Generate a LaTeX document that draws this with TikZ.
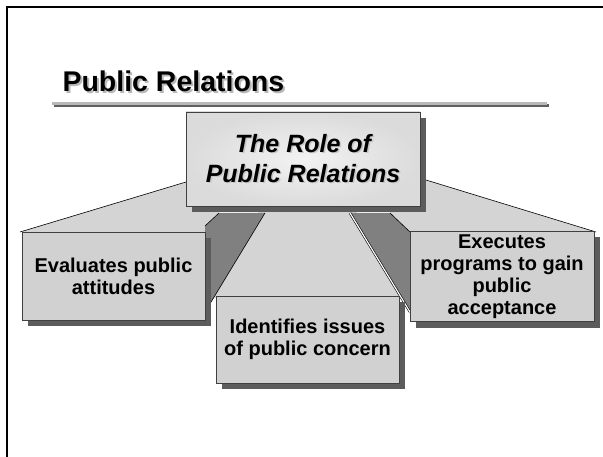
\documentclass[tikz,border=0pt]{standalone}
\usepackage{fontspec}
\setmainfont{Liberation Sans}
\usetikzlibrary{shadows,backgrounds}
\definecolor{facelight}{gray}{0.83}
\definecolor{facedark}{gray}{0.5}
\definecolor{boxfill}{gray}{0.82}
\definecolor{shadowgray}{gray}{0.36}
\newcommand\shadowtext[3]{\rlap{\kern#1\raisebox{-#1}{\textcolor{#2}{#3}}}#3}
\begin{document}
\begin{tikzpicture}[x=1pt,y=-1pt,
  box/.style={draw=black!75,line width=0.8pt,fill=boxfill,align=center,
    font=\fontsize{20}{22}\selectfont\bfseries,
    drop shadow={shadow xshift=6pt,shadow yshift=-6pt,fill=shadowgray,opacity=1}},
  face/.style={draw=black,line width=0.6pt,line join=round},
  titlefont/.style={font=\fontsize{28.5}{34}\selectfont\bfseries}]
\useasboundingbox (0,0) rectangle (603,457);
\draw[line width=2pt] (7,462) -- (7,7) -- (608,7);

\node (title) [titlefont,anchor=base west] at (59,92) {\shadowtext{2pt}{gray!55}{Public Relations}};
\draw[line width=3pt,gray!75!black] (54,106) -- (549,106);
\draw[line width=3pt,gray!55] (52,103.5) -- (547,103.5);

\node (cbox) [box,inner color=gray!10,outer color=gray!28,
  minimum width=234pt,minimum height=94pt,
  font=\fontsize{25}{30}\selectfont\bfseries\itshape] at (303,159)
  {\shadowtext{1.5pt}{gray!45}{The Role of}\\\shadowtext{1.5pt}{gray!45}{Public Relations}};
\node (lbox) [box,minimum width=183pt,minimum height=88pt] at (113.5,276)
  {Evaluates public\\attitudes};
\node (mbox) [box,minimum width=183pt,minimum height=87pt] at (307.5,339.5)
  {Identifies issues\\of public concern};
\node (rbox) [box,minimum width=184pt,minimum height=89pt] at (502,276.5)
  {Executes\\programs to gain\\public\\acceptance};

\begin{scope}[on background layer]
\fill[facelight] (186,182) -- (20,232) -- (205,232) -- (205,226) -- (219,213) -- (219,190) -- cycle;
\draw[face] (186,182) -- (20,232);
\fill[facelight] (265,200) -- (350,200) -- (402,298) -- (214,298) -- cycle;
\fill[facelight] (426,180) -- (596,232) -- (410,232) -- (390,213) -- (390,190) -- cycle;
\draw[face] (426,180) -- (596,232);
\fill[facedark] (205,226) -- (219,213) -- (265,213) -- (205,312) -- cycle;
\draw[face] (205,226) -- (219,213);
\draw[face] (265,213) -- (205,312);
\fill[facedark] (350,213) -- (390,213) -- (410,232) -- (410,312) -- cycle;
\draw[face] (390,213) -- (410,232);
\draw[face,double=white,double distance=1.2pt] (350,213) -- (410,312);
\end{scope}
\end{tikzpicture}
\end{document}
